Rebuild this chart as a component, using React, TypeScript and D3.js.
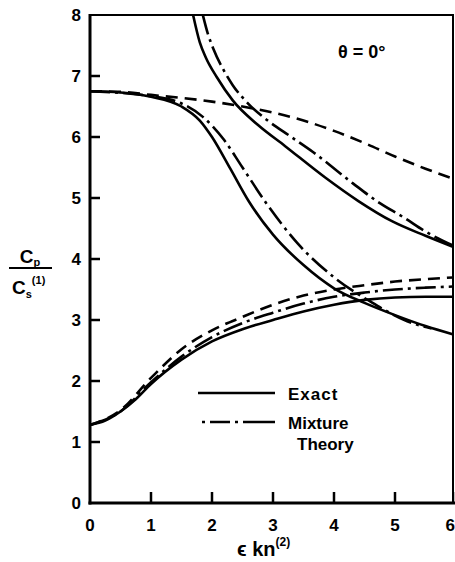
import * as d3 from "d3";
import React from "react";

const W = 455;
const H = 562;

// x = eps*kn(2), y = Cp / Cs(1)
const xTicks = [0, 1, 2, 3, 4, 5, 6];
const yTicks = [0, 1, 2, 3, 4, 5, 6, 7, 8];

// upper branch starting at 6.75
const exactUpper: [number, number][] = [[0, 6.75], [0.5, 6.73], [1, 6.66], [1.5, 6.5], [1.8, 6.27], [2, 6.0], [2.3, 5.48], [2.6, 4.95], [3, 4.4], [3.5, 3.9], [4, 3.52], [4.5, 3.28], [5, 3.08], [5.5, 2.9], [6, 2.75]];
const mixUpper: [number, number][] = [[0, 6.75], [1, 6.67], [1.5, 6.55], [1.85, 6.33], [2.2, 5.95], [2.5, 5.5], [2.9, 4.9], [3.4, 4.26], [4, 3.7], [4.6, 3.3], [5.2, 2.98], [5.6, 2.86]];
const dashUpper: [number, number][] = [[0, 6.75], [0.5, 6.74], [1, 6.69], [1.5, 6.64], [2, 6.58], [2.5, 6.5], [3, 6.4], [3.5, 6.27], [4, 6.1], [4.5, 5.9], [5, 5.68], [5.5, 5.48], [6, 5.3]];

// branch coming down from the top
const exactTop: [number, number][] = [[1.69, 8], [1.8, 7.55], [1.9, 7.3], [2.08, 6.98], [2.34, 6.6], [2.75, 6.2], [3.2, 5.85], [3.85, 5.34], [4.4, 4.95], [4.95, 4.62], [5.5, 4.38], [6, 4.18]];
const mixTop: [number, number][] = [[1.85, 8], [1.93, 7.7], [2.02, 7.45], [2.2, 7.08], [2.34, 6.85], [2.6, 6.54], [2.9, 6.28], [3.3, 6.0], [3.66, 5.75], [4.31, 5.24], [4.7, 4.95], [5.16, 4.67], [5.5, 4.45], [6, 4.2]];

// lower branch starting at 1.3
const exactLower: [number, number][] = [[0, 1.28], [0.25, 1.35], [0.5, 1.5], [0.75, 1.7], [1, 1.95], [1.5, 2.35], [2, 2.65], [2.5, 2.85], [3, 3.0], [3.5, 3.14], [4, 3.25], [4.5, 3.33], [5, 3.37], [5.5, 3.38], [6, 3.38]];
const mixLower: [number, number][] = [[0, 1.28], [0.5, 1.5], [1, 1.98], [1.5, 2.4], [2, 2.72], [2.5, 2.95], [3, 3.12], [3.5, 3.27], [4, 3.38], [4.5, 3.45], [5, 3.5], [5.5, 3.53], [6, 3.55]];
const dashLower: [number, number][] = [[0, 1.28], [0.5, 1.52], [1, 2.05], [1.5, 2.52], [2, 2.83], [2.5, 3.05], [3, 3.25], [3.5, 3.4], [4, 3.5], [4.5, 3.57], [5, 3.63], [5.5, 3.67], [6, 3.7]];

const font = "'Liberation Sans', Arial, sans-serif";

export default function App() {
  const x = d3.scaleLinear().domain([0, 6]).range([90, 456]);
  const y = d3.scaleLinear().domain([0, 8]).range([503, 15]);
  const line = d3
    .line<[number, number]>()
    .x((d) => x(d[0]))
    .y((d) => y(d[1]))
    .curve(d3.curveMonotoneX);

  const dashDot = "20 5 3 5";
  const dashed = "12 7";

  const curves = [
    { d: exactUpper, dash: null },
    { d: exactTop, dash: null },
    { d: exactLower, dash: null },
    { d: mixUpper, dash: dashDot },
    { d: mixTop, dash: dashDot },
    { d: mixLower, dash: dashDot },
    { d: dashUpper, dash: dashed },
    { d: dashLower, dash: dashed },
  ];

  return (
    <svg width={W} height={H} style={{ position: "absolute", left: 0, top: 0, background: "#fff" }}>
      <defs>
        <clipPath id="plot">
          <rect x={x(0)} y={y(8)} width={453 - x(0)} height={y(0) - y(8)} />
        </clipPath>
      </defs>

      <g clipPath="url(#plot)">
        {curves.map((c, i) => (
          <path
            key={i}
            d={line(c.d) || ""}
            fill="none"
            stroke="#000"
            strokeWidth={2.6}
            strokeDasharray={c.dash || undefined}
          />
        ))}
      </g>

      {/* frame */}
      <path d={`M${x(0)},${y(8)} H453 V${y(0)}`} fill="none" stroke="#000" strokeWidth={2} />
      <line x1={x(0)} x2={x(0)} y1={y(8) - 1} y2={y(0) + 1.5} stroke="#000" strokeWidth={3} />
      <line x1={x(0) - 1.5} x2={W} y1={y(0)} y2={y(0)} stroke="#000" strokeWidth={3} />

      {/* y ticks */}
      {yTicks.map((t) => (
        <g key={"y" + t}>
          {t > 0 && t < 8 && <line x1={x(0)} x2={x(0) + 10} y1={y(t)} y2={y(t)} stroke="#000" strokeWidth={2.5} />}
          <text x={x(0) - 9} y={y(t) + 6} textAnchor="end" fontFamily={font} fontWeight="bold" fontSize={17}>
            {t}
          </text>
        </g>
      ))}

      {/* x ticks */}
      {xTicks.map((t) => (
        <g key={"x" + t}>
          {t > 0 && <line x1={x(t)} x2={x(t)} y1={y(0)} y2={y(0) - 11} stroke="#000" strokeWidth={2.5} />}
          <text
            x={t === 6 ? 455 : x(t)}
            y={531}
            textAnchor={t === 6 ? "end" : "middle"}
            fontFamily={font}
            fontWeight="bold"
            fontSize={17}
          >
            {t}
          </text>
        </g>
      ))}

      {/* y axis label */}
      <text x={30} y={263} textAnchor="middle" fontFamily={font} fontWeight="bold" fontSize={19}>
        C<tspan fontSize={11} dy={3}>p</tspan>
      </text>
      <line x1={9} x2={52} y1={268} y2={268} stroke="#000" strokeWidth={2} />
      <text x={12} y={294} fontFamily={font} fontWeight="bold" fontSize={19}>
        C<tspan fontSize={11} dy={4}>s</tspan>
        <tspan fontSize={11} dy={-14}>(1)</tspan>
      </text>

      {/* x axis label */}
      <text x={237} y={556} fontFamily={font} fontWeight="bold" fontSize={20}>
        ϵ kn<tspan fontSize={12} dy={-10}>(2)</tspan>
      </text>

      {/* theta */}
      <text x={338} y={58} fontFamily={font} fontWeight="bold" fontSize={18}>
        θ = 0°
      </text>

      {/* legend */}
      <line x1={198} x2={275} y1={393} y2={393} stroke="#000" strokeWidth={2.6} />
      <text x={288} y={400} fontFamily={font} fontWeight="bold" fontSize={17} letterSpacing={1}>
        Exact
      </text>
      <line x1={202} x2={275} y1={422} y2={422} stroke="#000" strokeWidth={2.6} strokeDasharray="3 5 20 5 3 5 32" />
      <text x={288} y={429} fontFamily={font} fontWeight="bold" fontSize={17}>
        Mixture
      </text>
      <text x={297} y={450} fontFamily={font} fontWeight="bold" fontSize={17}>
        Theory
      </text>
    </svg>
  );
}
